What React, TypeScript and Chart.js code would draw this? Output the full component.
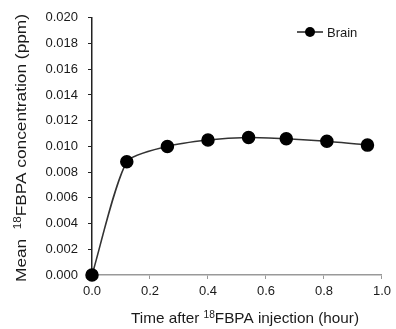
import React, { useEffect, useRef } from "react";
import { Chart, registerables } from "chart.js";

Chart.register(...registerables);

const timeHours = [0, 0.12, 0.26, 0.4, 0.54, 0.67, 0.81, 0.95];
const brainConc = [0, 0.0088, 0.01, 0.0105, 0.0107, 0.0106, 0.0104, 0.0101];
const seriesName = "Brain";
// title parts: [text, isSuperscript]
const xTitleParts: [string, boolean][] = [["Time after ", false], ["18", true], ["FBPA injection (hour)", false]];
const yTitleParts: [string, boolean][] = [["Mean  ", false], ["18", true], ["FBPA concentration (ppm)", false]];

const FONT = "'Liberation Sans', Arial, sans-serif";
const INK = "#1a1a1a";

function drawTitle(ctx: CanvasRenderingContext2D, parts: [string, boolean][], cx: number, cy: number, rot: number, targetLen: number) {
  const main = `15px ${FONT}`;
  const sup = `10px ${FONT}`;
  let total = 0;
  for (const [t, s] of parts) {
    ctx.font = s ? sup : main;
    total += ctx.measureText(t).width;
  }
  ctx.save();
  ctx.translate(cx, cy);
  ctx.rotate(rot);
  ctx.scale(targetLen / total, 1);
  ctx.fillStyle = INK;
  ctx.textBaseline = "alphabetic";
  ctx.textAlign = "left";
  let x = -total / 2;
  for (const [t, s] of parts) {
    ctx.font = s ? sup : main;
    ctx.fillText(t, x, s ? -0.5 : 5);
    x += ctx.measureText(t).width;
  }
  ctx.restore();
}

const decorPlugin = {
  id: "decor",
  afterDraw(chart: any) {
    const ctx = chart.ctx as CanvasRenderingContext2D;
    const x = 310;
    const y = 32;
    ctx.save();
    ctx.strokeStyle = "#222";
    ctx.lineWidth = 1.5;
    ctx.beginPath();
    ctx.moveTo(x - 13, y);
    ctx.lineTo(x + 13, y);
    ctx.stroke();
    ctx.fillStyle = "#000";
    ctx.beginPath();
    ctx.arc(x, y, 5, 0, Math.PI * 2);
    ctx.fill();
    ctx.font = `13px ${FONT}`;
    ctx.textBaseline = "middle";
    ctx.textAlign = "left";
    ctx.fillStyle = INK;
    ctx.fillText(seriesName, x + 17, y + 1);
    ctx.restore();
    drawTitle(ctx, xTitleParts, 245, 318, 0, 228);
    drawTitle(ctx, yTitleParts, 21, 148, -Math.PI / 2, 268);
  },
};

export default function App() {
  const ref = useRef<HTMLCanvasElement>(null);
  useEffect(() => {
    if (!ref.current) return;
    const chart = new Chart(ref.current, {
      type: "line",
      data: {
        datasets: [
          {
            label: seriesName,
            data: timeHours.map((t, i) => ({ x: t, y: brainConc[i] })),
            borderColor: "#333",
            borderWidth: 1.5,
            backgroundColor: "#000",
            pointBackgroundColor: "#000",
            pointBorderColor: "#000",
            pointRadius: 6,
            tension: 0.22,
            clip: false as any,
          },
        ],
      },
      options: {
        animation: false,
        responsive: false,
        maintainAspectRatio: false,
        layout: { padding: { left: 0, right: 11, top: 13, bottom: 0 } },
        plugins: { legend: { display: false }, tooltip: { enabled: false } },
        scales: {
          x: {
            type: "linear",
            min: 0,
            max: 1,
            ticks: {
              stepSize: 0.2,
              padding: 5,
              color: INK,
              font: { family: FONT, size: 13 },
              callback: (v: any) => Number(v).toFixed(1),
            },
            grid: { drawOnChartArea: false, drawTicks: true, tickLength: 4, color: "#999" },
            border: { color: "#999", width: 1.5 },
            afterFit: (s: any) => {
              s.height = 54;
            },
          },
          y: {
            type: "linear",
            min: 0,
            max: 0.02,
            ticks: {
              stepSize: 0.002,
              padding: 10,
              color: INK,
              font: { family: FONT, size: 13 },
              callback: (v: any) => Number(v).toFixed(3),
            },
            grid: { drawOnChartArea: false, drawTicks: true, tickLength: 4, color: "#222" },
            border: { color: "#222", width: 1.5 },
            afterFit: (s: any) => {
              s.width = 92;
            },
          },
        },
      },
      plugins: [decorPlugin],
    });
    return () => chart.destroy();
  }, []);
  return (
    <div style={{ position: "fixed", left: 0, top: 0, width: 396, height: 329, background: "#fff" }}>
      <canvas ref={ref} width={396} height={329} style={{ width: 396, height: 329 }} />
    </div>
  );
}
